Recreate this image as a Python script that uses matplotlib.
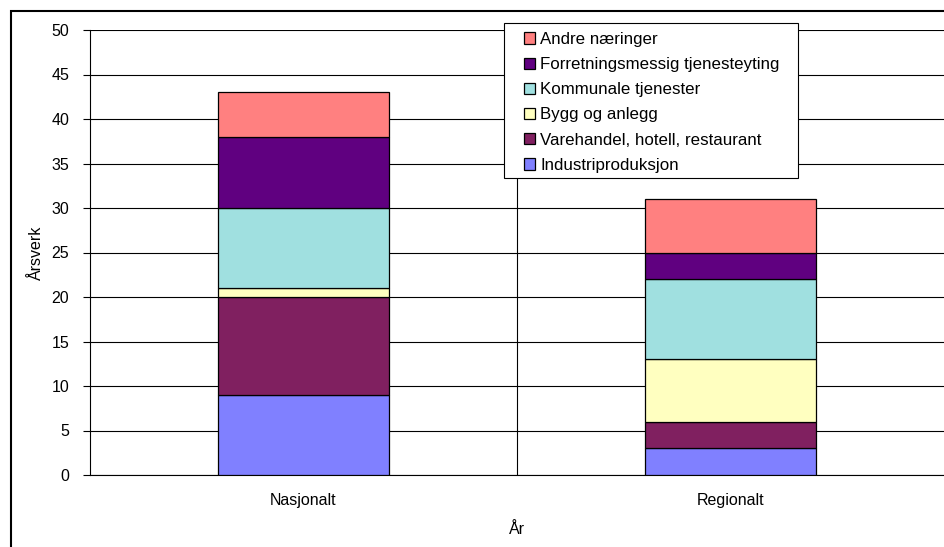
import numpy as np
from matplotlib import pyplot as plt
from matplotlib.patches import Rectangle

categories = ["Nasjonalt", "Regionalt"]
series_names = ["Industriproduksjon", "Varehandel, hotell, restaurant",
                "Bygg og anlegg", "Kommunale tjenester",
                "Forretningsmessig tjenesteyting", "Andre næringer"]
industri = [9, 3]
varehandel = [11, 3]
bygg = [1, 7]
kommunale = [9, 9]
forretning = [8, 3]
andre = [5, 6]
colors = ["#8080FF", "#802060", "#FFFFC0", "#A0E0E0", "#600080", "#FF8080"]


def main():
    plt.rcParams['font.family'] = ['Liberation Sans', 'DejaVu Sans']
    W, H = 944, 547
    fig = plt.figure(figsize=(W / 100, H / 100), dpi=100)
    ax = fig.add_axes([90 / W, (H - 475) / H, 1 - 90 / W, 445 / H])

    x = np.arange(len(categories))
    bottom = np.zeros(len(categories))
    handles = []
    for name, vals, col in zip(series_names,
                               [industri, varehandel, bygg, kommunale, forretning, andre],
                               colors):
        b = ax.bar(x, vals, 0.4, bottom=bottom, color=col,
                   edgecolor="black", linewidth=0.9, label=name, zorder=3)
        handles.append(b)
        bottom += np.array(vals)

    ax.set_xlim(-0.5, 1.5)
    ax.set_ylim(0, 50)
    ax.set_yticks(np.arange(0, 51, 5))
    ax.yaxis.grid(True, color="black", linewidth=0.8)
    ax.axvline(0.5, color="black", linewidth=0.8, zorder=1)
    ax.set_axisbelow(True)
    for s in ["top", "right"]:
        ax.spines[s].set_visible(False)
    ax.spines["left"].set_linewidth(0.8)
    ax.spines["bottom"].set_linewidth(0.8)
    ax.set_xticks(x)
    ax.set_xticklabels(categories)
    ax.tick_params(axis="x", length=0, pad=13, labelsize=11.5)
    ax.tick_params(axis="y", length=5, width=0.8, labelsize=11.5, pad=10)
    ax.set_xlabel("År", fontsize=11.5, labelpad=10)
    ax.set_ylabel("Årsverk", fontsize=11.5, labelpad=5)

    # legend box drawn separately, Excel style
    box = Rectangle((504 / W, 1 - 178 / H), 294 / W, 155 / H,
                    transform=fig.transFigure, facecolor="white",
                    edgecolor="black", linewidth=0.8, zorder=4, clip_on=False)
    ax.add_patch(box)
    leg = ax.legend(handles[::-1], series_names[::-1],
                    loc="upper left", bbox_to_anchor=(524 / W, 1 - 32 / H),
                    bbox_transform=fig.transFigure,
                    borderaxespad=0, borderpad=0, fontsize=12.2, frameon=False,
                    handlelength=0.65, handleheight=0.65, handletextpad=0.3,
                    labelspacing=0.6)
    leg.set_zorder(5)

    fig.patches.append(Rectangle((11 / W, -0.1), 1.2, 1 - 11 / H + 0.1,
                                 transform=fig.transFigure, fill=False,
                                 edgecolor="black", linewidth=1.5))
    fig.savefig("out.png", dpi=100)


if __name__ == "__main__":
    main()
